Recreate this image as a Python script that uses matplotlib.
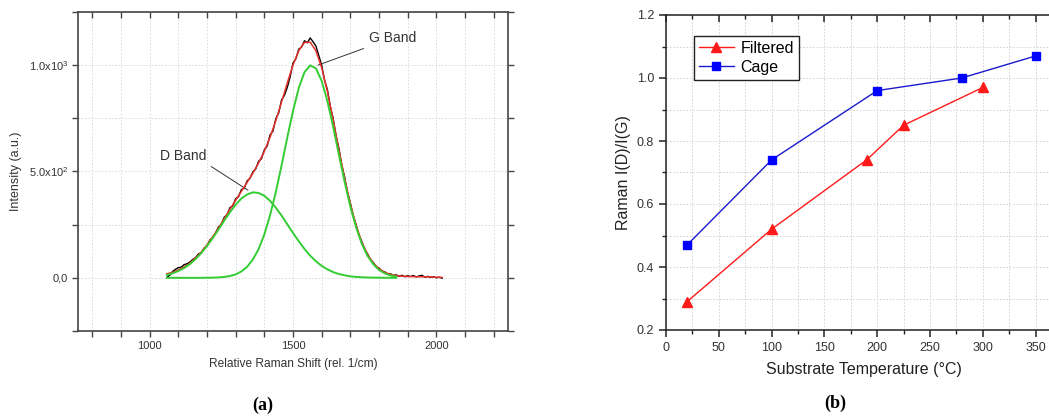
import matplotlib
matplotlib.use("Agg")
import matplotlib.pyplot as plt
from matplotlib.ticker import MultipleLocator, FixedLocator

plt.rcParams['font.family'] = ['Liberation Sans', 'DejaVu Sans']
plt.rcParams['mathtext.fontset'] = 'custom'
plt.rcParams['mathtext.rm'] = 'Liberation Sans'
plt.rcParams['mathtext.it'] = 'Liberation Sans'

# ---------------- Panel (a) data ----------------
shift_fit = [1060, 1080, 1100, 1120, 1140, 1160, 1180, 1200, 1220, 1240, 1260, 1280,
             1300, 1320, 1340, 1360, 1380, 1400, 1420, 1440, 1460, 1480, 1500, 1520,
             1540, 1560, 1580, 1600, 1620, 1640, 1660, 1680, 1700, 1720, 1740, 1760,
             1780, 1800, 1820, 1840, 1860, 1880, 1900, 1920, 1940, 1960, 1980, 2000, 2020]
fit_total = [19, 26, 37, 51, 69, 93, 121, 155, 193, 234, 278, 322,
             365, 407, 449, 492, 540, 595, 661, 739, 826, 916, 1001, 1068,
             1107, 1108, 1068, 988, 876, 743, 603, 468, 348, 247, 168, 110,
             69, 43, 26, 16, 11, 8, 6, 6, 5, 5, 4, 3, 2]
d_band = [14, 21, 32, 46, 64, 88, 116, 150, 187, 227, 269, 308,
          344, 373, 392, 402, 399, 386, 362, 330, 293, 252, 211, 172,
          136, 104, 78, 56, 40, 27, 18, 12, 7, 4.5, 2.6, 1.5,
          0.9, 0.5, 0.3, 0.1, 0.05, 0, 0, 0, 0, 0, 0, 0, 0]
g_band = [0, 0, 0, 0, 0, 0, 0.1, 0.4, 0.9, 2.0, 4.3, 8.5,
          16, 30, 52, 86, 135, 204, 294, 403, 528, 659, 785, 892,
          967, 999, 985, 926, 831, 711, 580, 452, 335, 238, 160, 103,
          64, 37, 21, 11, 5.7, 2.7, 1.3, 0.6, 0.2, 0.1, 0, 0, 0]

shift_meas = [1060, 1070, 1080, 1090, 1100, 1110, 1120, 1130, 1140, 1150, 1160, 1170,
              1180, 1190, 1200, 1210, 1220, 1230, 1240, 1250, 1260, 1270, 1280, 1290,
              1300, 1310, 1320, 1330, 1340, 1350, 1360, 1370, 1380, 1390, 1400, 1410,
              1420, 1430, 1440, 1450, 1460, 1470, 1480, 1490, 1500, 1510, 1520, 1530,
              1540, 1550, 1560, 1570, 1580, 1590, 1600, 1610, 1620, 1630, 1640, 1650,
              1660, 1670, 1680, 1690, 1700, 1710, 1720, 1730, 1740, 1750, 1760, 1770,
              1780, 1790, 1800, 1810, 1820, 1830, 1840, 1850, 1860, 1870, 1880, 1890,
              1900, 1910, 1920, 1930, 1940, 1950, 1960, 1970, 1980, 1990, 2000, 2010, 2020]
intensity_meas = [2, 12, 30, 40, 48, 50, 62, 66, 74, 86, 95, 112,
                  118, 140, 150, 178, 188, 210, 240, 250, 285, 296, 330, 338,
                  372, 382, 415, 422, 456, 468, 498, 512, 548, 560, 602, 620,
                  672, 690, 748, 775, 836, 858, 895, 945, 1010, 1030, 1075, 1085,
                  1115, 1105, 1128, 1110, 1090, 1045, 1000, 930, 885, 806, 750, 668,
                  610, 530, 474, 402, 352, 292, 250, 202, 171, 134, 113, 86,
                  72, 52, 46, 31, 28, 18, 19, 10, 14, 7, 12, 5,
                  10, 6, 11, 4, 9, 12, 3, 7, 2, 5, 0, 3, -2]

a_yticks = [0, 500, 1000]
a_yticklabels = ['0,0', '5.0x10$^2$', '1.0x10$^3$']
a_xticks = [1000, 1500, 2000]

# ---------------- Panel (b) data ----------------
temp_filtered = [20, 100, 190, 225, 300]
ratio_filtered = [0.29, 0.52, 0.74, 0.85, 0.97]
temp_cage = [20, 100, 200, 280, 350]
ratio_cage = [0.47, 0.74, 0.96, 1.00, 1.07]

W, H = 1049, 418
fig = plt.figure(figsize=(W / 100, H / 100), dpi=100)

# ================= (a) =================
ax1 = fig.add_axes([78 / W, 1 - 331 / H, 430 / W, 319 / H])
ax1.set_xlim(750, 2250)
ax1.set_ylim(-250, 1250)
ax1.plot(shift_meas, intensity_meas, color='black', lw=1.0, zorder=3)
ax1.plot(shift_fit, fit_total, color='#e8302a', lw=1.1, zorder=4)
ax1.plot(shift_fit[:41], d_band[:41], color='#33cc33', lw=1.4, zorder=5)
ax1.plot(shift_fit[:41], g_band[:41], color='#33cc33', lw=1.4, zorder=5)

ax1.xaxis.set_major_locator(FixedLocator(a_xticks))
ax1.xaxis.set_minor_locator(MultipleLocator(100))
ax1.yaxis.set_major_locator(FixedLocator(a_yticks))
ax1.set_yticklabels(a_yticklabels)
ax1.yaxis.set_minor_locator(MultipleLocator(250))
ax1.grid(True, which='both', color='#d8d8d8', lw=0.6, ls=(0, (2, 2)))
ax1.set_axisbelow(True)
for sp in ax1.spines.values():
    sp.set_color('#444444')
    sp.set_linewidth(1.2)
ax1.tick_params(which='both', direction='out', length=4, width=1, colors='#444444',
                labelsize=8, labelcolor='#333333', pad=3)
ax1.tick_params(axis='x', which='both', top=True)
ax1.tick_params(axis='y', which='both', right=True)
for t in ax1.xaxis.get_major_ticks() + ax1.xaxis.get_minor_ticks():
    t.tick2line.set_marker(3)
ax1.set_xlabel('Relative Raman Shift (rel. 1/cm)', fontsize=8.6, color='#333333', labelpad=5)
ax1.set_ylabel('Intensity (a.u.)', fontsize=9, color='#333333', labelpad=5)

ax1.annotate('G Band', xy=(1587, 1000), xytext=(1765, 1128), fontsize=10,
             color='#333333', va='center', ha='left',
             arrowprops=dict(arrowstyle='-', color='#333333', lw=0.7,
                             shrinkA=2, shrinkB=0))
ax1.annotate('D Band', xy=(1343, 412), xytext=(1035, 572), fontsize=10,
             color='#333333', va='center', ha='left',
             arrowprops=dict(arrowstyle='-', color='#333333', lw=0.7,
                             shrinkA=2, shrinkB=0, relpos=(1.0, 0.0)))

fig.text(263 / W, 1 - 405 / H, '(a)', fontsize=13, fontweight='bold',
         family='Liberation Serif', ha='center', va='center')

# ================= (b) =================
ax2 = fig.add_axes([666 / W, 1 - 330 / H, 396 / W, 315 / H])
ax2.set_xlim(0, 375)
ax2.set_ylim(0.2, 1.2)
ax2.plot(temp_filtered, ratio_filtered, color='#ff1a1a', lw=1.0, marker='^', ms=7,
         label='Filtered', zorder=4)
ax2.plot(temp_cage, ratio_cage, color='#1a1acc', lw=1.0, marker='s', ms=6,
         markerfacecolor='#0000ff', markeredgecolor='#0000ff', label='Cage', zorder=4)
ax2.xaxis.set_major_locator(FixedLocator([0, 50, 100, 150, 200, 250, 300, 350]))
ax2.xaxis.set_minor_locator(MultipleLocator(25))
ax2.yaxis.set_major_locator(MultipleLocator(0.2))
ax2.yaxis.set_minor_locator(MultipleLocator(0.1))
ax2.yaxis.set_major_formatter(plt.FormatStrFormatter('%.1f'))
ax2.grid(True, which='both', color='#cfcfcf', lw=0.6, ls=(0, (2, 2)))
ax2.set_axisbelow(True)
for sp in ax2.spines.values():
    sp.set_color('#222222')
    sp.set_linewidth(1.1)
ax2.tick_params(which='major', length=5, width=1.1, labelsize=9, colors='#222222',
                labelcolor='#333333')
ax2.tick_params(which='minor', length=3, width=1.0, colors='#222222')
ax2.tick_params(axis='x', which='both', direction='out', top=True)
ax2.tick_params(axis='y', which='both', direction='out')
ax2.set_xlabel('Substrate Temperature (\u00b0C)', fontsize=11.5, color='#222222', labelpad=6)
ax2.set_ylabel('Raman I(D)/I(G)', fontsize=11.5, color='#222222', labelpad=4)
for t in ax2.xaxis.get_major_ticks() + ax2.xaxis.get_minor_ticks():
    t.tick2line.set_marker(3)

leg = ax2.legend(loc='upper left', bbox_to_anchor=(694 / W, 1 - 36 / H),
                 bbox_transform=fig.transFigure, borderaxespad=0, fontsize=11.5,
                 frameon=True, fancybox=False, edgecolor='#222222', framealpha=1,
                 handlelength=2.2, handletextpad=0.4, borderpad=0.3, labelspacing=0.25)
leg.get_frame().set_linewidth(1.0)

fig.text(835 / W, 1 - 403 / H, '(b)', fontsize=13, fontweight='bold',
         family='Liberation Serif', ha='center', va='center')

fig.savefig('out.png', dpi=100)
